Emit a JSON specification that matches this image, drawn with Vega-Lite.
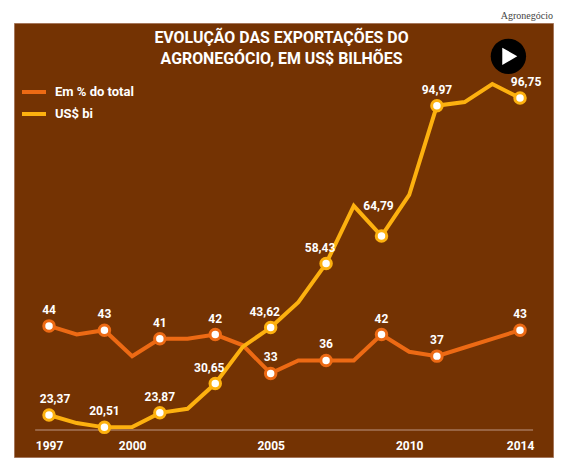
{
  "$schema": "https://vega.github.io/schema/vega-lite/v6.json",
  "width": 539,
  "height": 434,
  "autosize": "none",
  "padding": {"left": 14, "top": 23, "right": 17, "bottom": 17},
  "background": "white",
  "view": {"fill": "#743303", "stroke": "#a5765a"},
  "config": {"font": "Roboto"},
  "title": {
    "text": ["EVOLUÇÃO DAS EXPORTAÇÕES DO", "AGRONEGÓCIO, EM US$ BILHÕES"],
    "anchor": "middle",
    "frame": "group",
    "dx": -2,
    "offset": -56,
    "font": "Roboto",
    "fontSize": 15.9,
    "fontWeight": "bold",
    "color": "white",
    "lineHeight": 21
  },
  "data": {
    "values": [
      {"year": 1997, "series": "Em % do total", "value": 44, "label": "44"},
      {"year": 1998, "series": "Em % do total", "value": 42},
      {"year": 1999, "series": "Em % do total", "value": 43, "label": "43"},
      {"year": 2000, "series": "Em % do total", "value": 37},
      {"year": 2001, "series": "Em % do total", "value": 41, "label": "41"},
      {"year": 2002, "series": "Em % do total", "value": 41},
      {"year": 2003, "series": "Em % do total", "value": 42, "label": "42"},
      {"year": 2004, "series": "Em % do total", "value": 39.5},
      {"year": 2005, "series": "Em % do total", "value": 33, "label": "33"},
      {"year": 2006, "series": "Em % do total", "value": 36},
      {"year": 2007, "series": "Em % do total", "value": 36, "label": "36"},
      {"year": 2008, "series": "Em % do total", "value": 36},
      {"year": 2009, "series": "Em % do total", "value": 42, "label": "42"},
      {"year": 2010, "series": "Em % do total", "value": 38},
      {"year": 2011, "series": "Em % do total", "value": 37, "label": "37"},
      {"year": 2012, "series": "Em % do total", "value": 39},
      {"year": 2013, "series": "Em % do total", "value": 41},
      {"year": 2014, "series": "Em % do total", "value": 43, "label": "43"},
      {"year": 1997, "series": "US$ bi", "value": 23.37, "label": "23,37"},
      {"year": 1998, "series": "US$ bi", "value": 21.5},
      {"year": 1999, "series": "US$ bi", "value": 20.51, "label": "20,51"},
      {"year": 2000, "series": "US$ bi", "value": 20.6},
      {"year": 2001, "series": "US$ bi", "value": 23.87, "label": "23,87"},
      {"year": 2002, "series": "US$ bi", "value": 24.8},
      {"year": 2003, "series": "US$ bi", "value": 30.65, "label": "30,65"},
      {"year": 2004, "series": "US$ bi", "value": 39.2},
      {"year": 2005, "series": "US$ bi", "value": 43.62, "label": "43,62"},
      {"year": 2006, "series": "US$ bi", "value": 49.5},
      {"year": 2007, "series": "US$ bi", "value": 58.43, "label": "58,43"},
      {"year": 2008, "series": "US$ bi", "value": 71.8},
      {"year": 2009, "series": "US$ bi", "value": 64.79, "label": "64,79"},
      {"year": 2010, "series": "US$ bi", "value": 74.3},
      {"year": 2011, "series": "US$ bi", "value": 94.97, "label": "94,97"},
      {"year": 2012, "series": "US$ bi", "value": 95.8},
      {"year": 2013, "series": "US$ bi", "value": 100},
      {"year": 2014, "series": "US$ bi", "value": 96.75, "label": "96,75"}
    ]
  },
  "encoding": {
    "x": {
      "field": "year",
      "type": "quantitative",
      "scale": {"domain": [1995.736, 2015.19], "nice": false, "zero": false},
      "title": null,
      "axis": {
        "values": [1997, 2000, 2005, 2010, 2014],
        "format": "d",
        "offset": -19,
        "domain": false,
        "ticks": false,
        "grid": false,
        "labelColor": "white",
        "labelFontSize": 12,
        "labelFontWeight": "bold",
        "labelFlush": false
      }
    },
    "y": {
      "field": "value",
      "type": "quantitative",
      "scale": {"domain": [13.65, 114.11], "nice": false, "zero": false},
      "axis": null
    }
  },
  "layer": [
    {
      "transform": [{"filter": "datum.year == 1997 && datum.series == 'US$ bi'"}],
      "mark": {"type": "rule", "color": "#a5765a", "strokeWidth": 1.5},
      "encoding": {
        "x": {"datum": 1996.5},
        "x2": {"datum": 2014.47},
        "y": {"datum": 19.9}
      }
    },
    {
      "mark": {"type": "line", "strokeWidth": 4, "strokeJoin": "miter"},
      "encoding": {
        "color": {
          "field": "series",
          "type": "nominal",
          "scale": {"domain": ["Em % do total", "US$ bi"], "range": ["#ed6a14", "#fdb10f"]},
          "legend": {
            "title": null,
            "orient": "none",
            "legendX": 6,
            "legendY": 55,
            "symbolType": "stroke",
            "symbolSize": 576,
            "symbolStrokeWidth": 4,
            "labelColor": "white",
            "labelFontSize": 13,
            "labelFontWeight": "bold",
            "labelOffset": 7,
            "rowPadding": 0
          }
        }
      }
    },
    {
      "transform": [{"filter": "isValid(datum.label)"}],
      "mark": {"type": "point", "filled": false, "fill": "white", "size": 110, "strokeWidth": 3, "opacity": 1},
      "encoding": {
        "stroke": {
          "field": "series",
          "type": "nominal",
          "scale": {"domain": ["Em % do total", "US$ bi"], "range": ["#ed6a14", "#fdb10f"]},
          "legend": null
        }
      }
    },
    {
      "transform": [{"filter": {"field": "label", "oneOf": ["44", "43", "41", "42", "33", "36", "37", "20,51", "23,87", "94,97"]}}],
      "mark": {"type": "text", "color": "white", "fontSize": 12, "fontWeight": "bold", "dy": -16},
      "encoding": {"text": {"field": "label"}}
    },
    {
      "transform": [{"filter": {"field": "label", "oneOf": ["30,65", "43,62", "58,43"]}}],
      "mark": {"type": "text", "color": "white", "fontSize": 12, "fontWeight": "bold", "dy": -16, "dx": -6},
      "encoding": {"text": {"field": "label"}}
    },
    {
      "transform": [{"filter": {"field": "label", "equal": "64,79"}}],
      "mark": {"type": "text", "color": "white", "fontSize": 12, "fontWeight": "bold", "dy": -30, "dx": -3},
      "encoding": {"text": {"field": "label"}}
    },
    {
      "transform": [{"filter": {"field": "label", "oneOf": ["23,37", "96,75"]}}],
      "mark": {"type": "text", "color": "white", "fontSize": 12, "fontWeight": "bold", "dy": -16, "dx": 6},
      "encoding": {"text": {"field": "label"}}
    },
    {
      "transform": [{"filter": "datum.year == 1997 && datum.series == 'US$ bi'"}],
      "mark": {"type": "point", "filled": true, "shape": "circle", "color": "black", "size": 1250, "opacity": 1},
      "encoding": {
        "x": {"datum": 2013.58},
        "y": {"datum": 106.4}
      }
    },
    {
      "transform": [{"filter": "datum.year == 1997 && datum.series == 'US$ bi'"}],
      "mark": {"type": "point", "filled": true, "shape": "triangle-right", "color": "white", "size": 300, "opacity": 1},
      "encoding": {
        "x": {"datum": 2013.63},
        "y": {"datum": 106.4}
      }
    },
    {
      "transform": [{"filter": "datum.year == 1997 && datum.series == 'US$ bi'"}],
      "mark": {"type": "text", "text": "Agronegócio", "font": "Liberation Serif", "fontSize": 10, "color": "#444444", "align": "right", "baseline": "middle"},
      "encoding": {
        "x": {"datum": 2015.19},
        "y": {"datum": 115.7}
      }
    }
  ]
}
